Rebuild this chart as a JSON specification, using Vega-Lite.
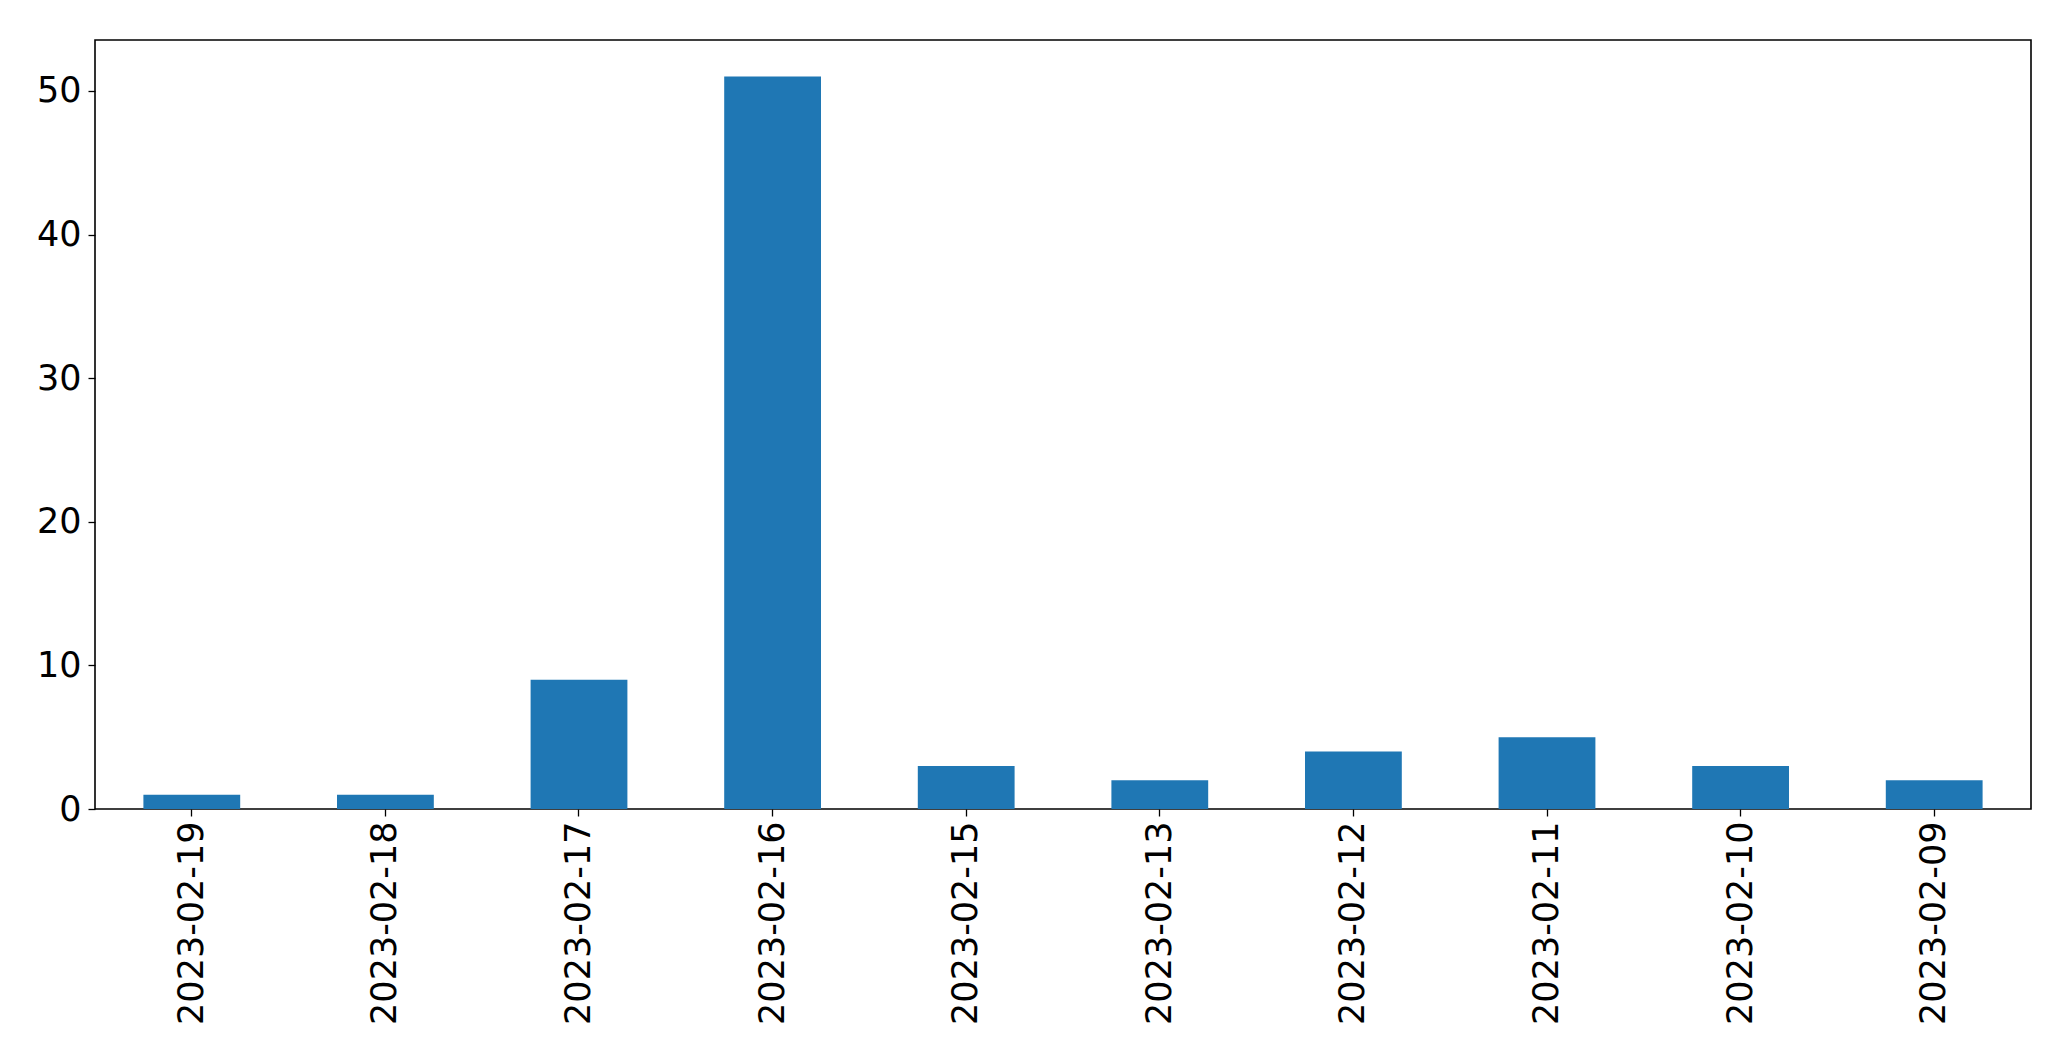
{
  "$schema": "https://vega.github.io/schema/vega-lite/v6.json",
  "autosize": "none",
  "width": 1936,
  "height": 769,
  "padding": {"left": 95, "top": 40, "right": 40, "bottom": 252},
  "background": "white",
  "config": {
    "view": {"stroke": "#000000", "strokeWidth": 1.6},
    "axis": {
      "labelFont": "DejaVu Sans",
      "labelFontSize": 35,
      "labelColor": "#000000",
      "labelLimit": 500,
      "tickColor": "#000000",
      "tickSize": 7,
      "tickWidth": 1.3,
      "domain": false,
      "grid": false,
      "title": null
    }
  },
  "data": {
    "values": [
      {"date": "2023-02-19", "count": 1},
      {"date": "2023-02-18", "count": 1},
      {"date": "2023-02-17", "count": 9},
      {"date": "2023-02-16", "count": 51},
      {"date": "2023-02-15", "count": 3},
      {"date": "2023-02-13", "count": 2},
      {"date": "2023-02-12", "count": 4},
      {"date": "2023-02-11", "count": 5},
      {"date": "2023-02-10", "count": 3},
      {"date": "2023-02-09", "count": 2}
    ]
  },
  "mark": {"type": "bar", "color": "#1f77b4"},
  "encoding": {
    "x": {
      "field": "date",
      "type": "nominal",
      "sort": null,
      "scale": {"paddingInner": 0.5, "paddingOuter": 0.25},
      "axis": {"labelAngle": -90, "labelPadding": 5}
    },
    "y": {
      "field": "count",
      "type": "quantitative",
      "scale": {"domain": [0, 53.55], "nice": false, "zero": true},
      "axis": {"values": [0, 10, 20, 30, 40, 50], "labelPadding": 7}
    }
  }
}
